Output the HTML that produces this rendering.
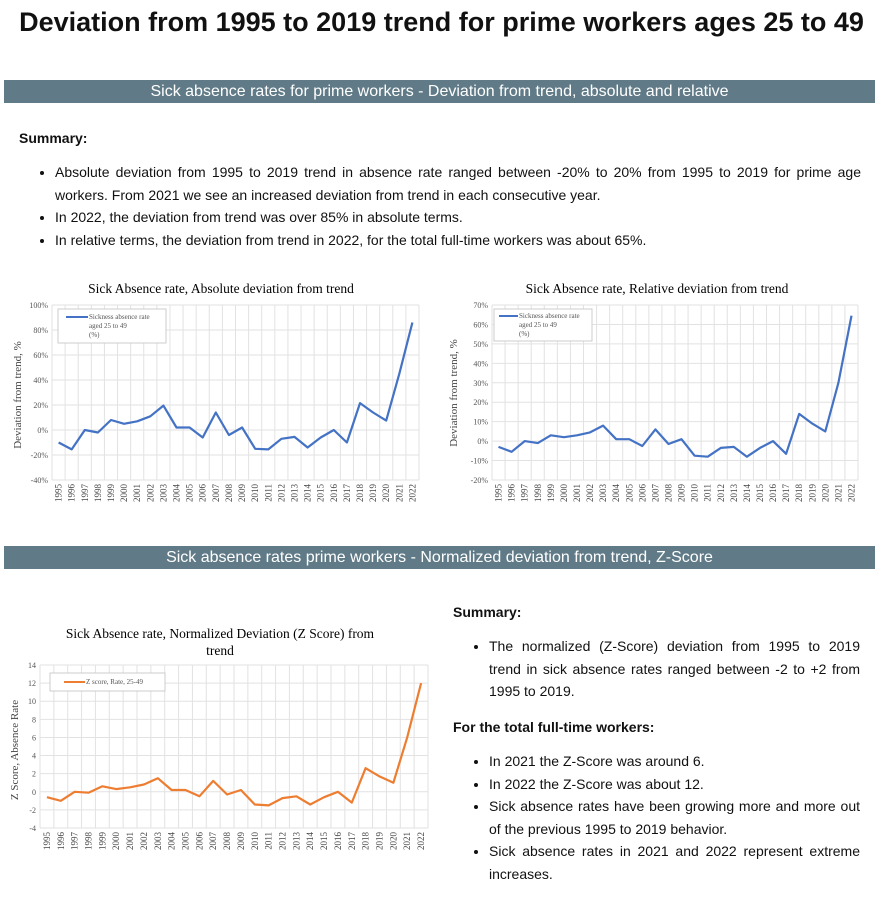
<!DOCTYPE html>
<html><head><meta charset="utf-8"><style>
body{margin:0;width:883px;height:901px;background:#fff;font-family:"Liberation Sans",sans-serif;color:#111;position:relative;overflow:hidden}
.abs{position:absolute}
h1{position:absolute;left:0;width:883px;top:7px;margin:0;text-align:center;font-size:27px;font-weight:bold}
.ban{position:absolute;left:4px;width:871px;height:23px;background:#607b87;color:#fff;text-align:center;font-size:16px;line-height:23px}
ul{margin:0;padding-left:36px}
li{font-size:14px;line-height:22.5px}
.t{font-size:13.5px;line-height:22.5px;text-align:justify}
svg text{font-family:"Liberation Serif",serif}
</style></head><body>
<h1>Deviation from 1995 to 2019 trend for prime workers ages 25 to 49</h1>
<div class="ban" style="top:80px">Sick absence rates for prime workers - Deviation from trend, absolute and relative</div>
<div class="abs" style="left:19px;top:130px;font-weight:bold;font-size:14px">Summary:</div>
<div class="abs t" style="left:19px;top:161px;width:842px"><ul>
<li>Absolute deviation from 1995 to 2019 trend in absence rate ranged between -20% to 20% from 1995 to 2019 for prime age workers. From 2021 we see an increased deviation from trend in each consecutive year.</li>
<li>In 2022, the deviation from trend was over 85% in absolute terms.</li>
<li>In relative terms, the deviation from trend in 2022, for the total full-time workers was about 65%.</li></ul></div>
<div class="ban" style="top:546px">Sick absence rates prime workers - Normalized deviation from trend, Z-Score</div>
<div class="abs" style="left:453px;top:604px;font-weight:bold;font-size:14px">Summary:</div>
<div class="abs t" style="left:453px;top:635px;width:407px"><ul>
<li>The normalized (Z-Score) deviation from 1995 to 2019 trend in sick absence rates ranged between -2 to +2 from 1995 to 2019.</li></ul></div>
<div class="abs" style="left:453px;top:719px;font-weight:bold;font-size:14px">For the total full-time workers:</div>
<div class="abs t" style="left:453px;top:750px;width:407px"><ul>
<li>In 2021 the Z-Score was around 6.</li>
<li>In 2022 the Z-Score was about 12.</li>
<li>Sick absence rates have been growing more and more out of the previous 1995 to 2019 behavior.</li>
<li>Sick absence rates in 2021 and 2022 represent extreme increases.</li></ul></div>
<svg id="s" class="abs" style="left:0;top:0" width="883" height="901"></svg>
<script>
var s='';
function chart(o){
 var x0=o.x0,x1=o.x1,y0=o.y0,y1=o.y1,n=28,w=(x1-x0)/n;
 var ty=function(v){return y0+(o.max-v)/(o.max-o.min)*(y1-y0);};
 for(var v=o.min;v<=o.max+1e-9;v+=o.step){var y=ty(v);
  s+='<line x1="'+x0+'" x2="'+x1+'" y1="'+y+'" y2="'+y+'" stroke="#e2e2e2"/>';
  s+='<text x="'+(x0-4)+'" y="'+(y+3)+'" font-size="8" text-anchor="end" fill="#555">'+o.fmt(v)+'</text>';}
 for(var i=0;i<=n;i++){var x=x0+i*w;s+='<line x1="'+x+'" x2="'+x+'" y1="'+y0+'" y2="'+y1+'" stroke="#e2e2e2"/>';}
 var p='';
 for(var i=0;i<n;i++){var x=x0+(i+.5)*w;p+=(i?'L':'M')+x.toFixed(1)+','+ty(o.d[i]).toFixed(1);
  s+='<text transform="translate('+(x+3)+','+(y1+4)+') rotate(-90)" font-size="9" text-anchor="end" fill="#444">'+(1995+i)+'</text>';}
 s+='<path d="'+p+'" fill="none" stroke="'+o.c+'" stroke-width="2.2" stroke-linejoin="round"/>';
 s+=o.extra;
}
chart({x0:52,x1:419,y0:305,y1:480,min:-40,max:100,step:20,fmt:function(v){return v+'%'},c:'#4472c4',
 d:[-10,-15.5,0,-2,8,5,7,11,19.5,2,2,-6,14,-4,2,-15,-15.5,-7,-5.5,-14,-6,0,-10,21.5,14,7.5,45,86],
 extra:'<text x="221" y="293" font-size="13.5" text-anchor="middle">Sick Absence rate, Absolute deviation from trend</text><text transform="translate(21,395) rotate(-90)" font-size="11" text-anchor="middle" fill="#444">Deviation from trend, %</text><rect x="58" y="309" width="108" height="34" fill="#fff" stroke="#ccc"/><line x1="66" x2="88" y1="317" y2="317" stroke="#4472c4" stroke-width="2"/><text x="89" y="319" font-size="7" fill="#555">Sickness absence rate</text><text x="89" y="328" font-size="7" fill="#555">aged 25 to 49</text><text x="89" y="337" font-size="7" fill="#555">(%)</text>'});
chart({x0:492,x1:858,y0:305,y1:480,min:-20,max:70,step:10,fmt:function(v){return v+'%'},c:'#4472c4',
 d:[-3,-5.5,0,-1,3,2,3,4.5,8,1,1,-2.5,6,-1.5,1,-7.5,-8,-3.5,-3,-8,-3.5,0,-6.5,14,9,5,30,64.5],
 extra:'<text x="657" y="293" font-size="13.5" text-anchor="middle">Sick Absence rate, Relative deviation from trend</text><text transform="translate(457,393) rotate(-90)" font-size="11" text-anchor="middle" fill="#444">Deviation from trend, %</text><rect x="494" y="309" width="98" height="32" fill="#fff" stroke="#ccc"/><line x1="499" x2="518" y1="316" y2="316" stroke="#4472c4" stroke-width="2"/><text x="519" y="318" font-size="7" fill="#555">Sickness absence rate</text><text x="519" y="327" font-size="7" fill="#555">aged 25 to 49</text><text x="519" y="336" font-size="7" fill="#555">(%)</text>'});
chart({x0:40,x1:428,y0:665,y1:828,min:-4,max:14,step:2,fmt:function(v){return v},c:'#ed7d31',
 d:[-0.6,-1,0,-0.1,0.6,0.3,0.5,0.8,1.5,0.2,0.2,-0.5,1.2,-0.3,0.2,-1.4,-1.5,-0.7,-0.5,-1.4,-0.6,0,-1.2,2.6,1.7,1,6,12],
 extra:'<text x="220" y="638" font-size="13.5" text-anchor="middle">Sick Absence rate, Normalized Deviation (Z Score) from</text><text x="220" y="655" font-size="13.5" text-anchor="middle">trend</text><text transform="translate(18,750) rotate(-90)" font-size="11" text-anchor="middle" fill="#444">Z Score, Absence Rate</text><rect x="50" y="673" width="115" height="18" fill="#fff" stroke="#ccc"/><line x1="64" x2="85" y1="682" y2="682" stroke="#ed7d31" stroke-width="2"/><text x="86" y="684" font-size="7" fill="#555">Z score, Rate, 25-49</text>'});
document.getElementById('s').innerHTML=s;
</script>
</body></html>
